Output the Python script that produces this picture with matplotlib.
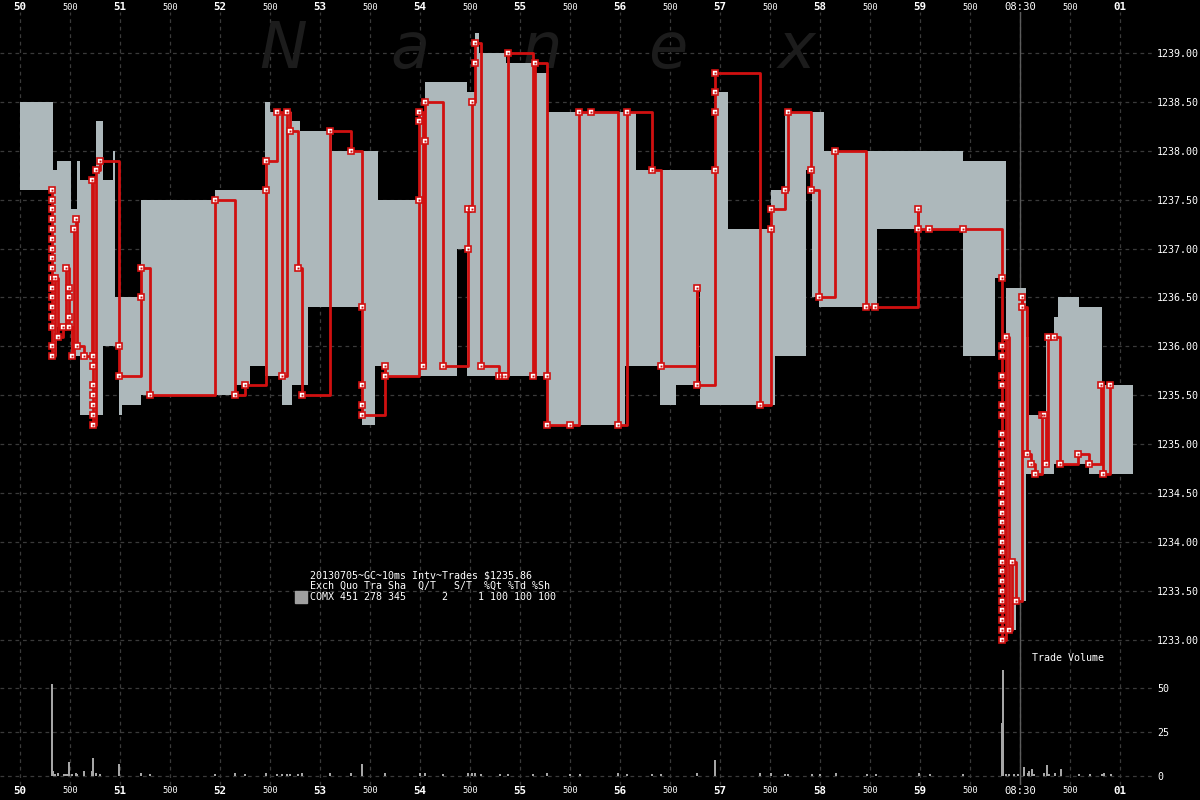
import matplotlib.pyplot as plt
from matplotlib.patches import Rectangle

# ---- quote (bid / ask) steps, seconds after 08:29 ----
quote_t = [50.00, 50.33, 50.37, 50.51, 50.57, 50.60, 50.76, 50.83, 50.93, 50.95,
           50.99, 51.02, 51.21, 51.95, 52.15, 52.30, 52.45, 52.50, 52.62, 52.72,
           52.80, 52.88, 53.12, 53.42, 53.55, 53.58, 53.65, 54.00, 54.05, 54.37,
           54.47, 54.55, 54.59, 54.86, 55.15, 55.27, 56.05, 56.16, 56.40, 56.56,
           56.77, 56.80, 56.95, 57.08, 57.51, 57.55, 57.65, 57.86, 57.92, 57.99,
           58.04, 58.57, 59.43, 59.75, 59.86, 59.96, 60.06, 60.09, 60.26, 60.34,
           60.38, 60.59, 60.69, 60.82, 61.13]
ask = [1238.5, 1237.8, 1237.9, 1237.4, 1237.9, 1237.7, 1238.3, 1237.7, 1238.0, 1236.5,
       1236.5, 1236.5, 1237.5, 1237.6, 1237.6, 1237.6, 1238.5, 1238.4, 1238.4, 1238.3,
       1238.2, 1238.2, 1238.0, 1238.0, 1238.0, 1237.5, 1237.5, 1238.4, 1238.7, 1238.7,
       1238.6, 1239.2, 1239.0, 1238.9, 1238.8, 1238.4, 1238.4, 1237.8, 1237.8, 1237.8,
       1237.8, 1237.8, 1238.6, 1237.2, 1237.6, 1237.6, 1238.4, 1238.4, 1238.4, 1238.4,
       1238.0, 1238.0, 1237.9, 1237.9, 1236.6, 1236.6, 1236.1, 1235.3, 1236.1, 1236.3,
       1236.5, 1236.4, 1236.4, 1235.6, 1235.6]
bid = [1237.6, 1235.9, 1236.2, 1235.9, 1235.9, 1235.3, 1235.3, 1236.0, 1236.0, 1236.0,
       1235.3, 1235.4, 1235.5, 1235.5, 1235.6, 1235.8, 1235.7, 1235.7, 1235.4, 1235.6,
       1235.6, 1236.4, 1236.4, 1235.2, 1235.8, 1235.8, 1235.7, 1235.7, 1235.7, 1237.0,
       1235.7, 1235.7, 1235.7, 1235.7, 1235.7, 1235.2, 1235.8, 1235.8, 1235.4, 1235.6,
       1236.6, 1235.4, 1235.4, 1235.4, 1235.4, 1235.9, 1235.9, 1237.8, 1236.5, 1236.4,
       1236.4, 1237.2, 1235.9, 1236.7, 1233.1, 1233.4, 1234.7, 1234.7, 1234.7, 1234.8,
       1234.8, 1234.8, 1234.7, 1234.7, 1234.7]

# ---- trades ----
trade_t = [50.32, 50.32, 50.32, 50.32, 50.32, 50.32, 50.32, 50.32, 50.32, 50.32,
           50.32, 50.32, 50.32, 50.32, 50.32, 50.32, 50.32, 50.35, 50.38, 50.43,
           50.46, 50.49, 50.49, 50.49, 50.49, 50.52, 50.54, 50.56, 50.57, 50.64,
           50.72, 50.73, 50.73, 50.73, 50.73, 50.73, 50.73, 50.73, 50.76, 50.80,
           50.99, 50.99, 51.21, 51.21, 51.30, 51.95, 52.15, 52.25, 52.46, 52.46,
           52.57, 52.62, 52.67, 52.70, 52.78, 52.82, 53.10, 53.31, 53.42, 53.42,
           53.42, 53.42, 53.65, 53.65, 53.99, 53.99, 53.99, 54.03, 54.05, 54.05,
           54.23, 54.48, 54.48, 54.52, 54.52, 54.55, 54.55, 54.61, 54.79, 54.82,
           54.85, 54.88, 55.13, 55.15, 55.27, 55.27, 55.50, 55.59, 55.71, 55.98,
           56.07, 56.32, 56.41, 56.77, 56.77, 56.95, 56.95, 56.95, 56.95, 57.40,
           57.51, 57.51, 57.65, 57.68, 57.91, 57.91, 57.99, 58.15, 58.46, 58.55,
           58.98, 58.98, 59.09, 59.43, 59.82, 59.82, 59.82, 59.82, 59.82, 59.82,
           59.82, 59.82, 59.82, 59.82, 59.82, 59.82, 59.82, 59.82, 59.82, 59.82,
           59.82, 59.82, 59.82, 59.82, 59.82, 59.82, 59.82, 59.82, 59.82, 59.82,
           59.82, 59.82, 59.82, 59.86, 59.89, 59.92, 59.96, 60.02, 60.02, 60.07,
           60.11, 60.15, 60.22, 60.24, 60.26, 60.28, 60.34, 60.40, 60.58, 60.69,
           60.81, 60.83, 60.90]
trade_p = [1237.6, 1237.5, 1237.4, 1237.3, 1237.2, 1237.1, 1237.0, 1236.9, 1236.8, 1236.7,
           1236.6, 1236.5, 1236.4, 1236.3, 1236.2, 1236.0, 1235.9, 1236.7, 1236.1, 1236.2,
           1236.8, 1236.6, 1236.5, 1236.3, 1236.2, 1235.9, 1237.2, 1237.3, 1236.0, 1235.9,
           1237.7, 1235.9, 1235.8, 1235.6, 1235.5, 1235.4, 1235.3, 1235.2, 1237.8, 1237.9,
           1236.0, 1235.7, 1236.5, 1236.8, 1235.5, 1237.5, 1235.5, 1235.6, 1237.6, 1237.9,
           1238.4, 1235.7, 1238.4, 1238.2, 1236.8, 1235.5, 1238.2, 1238.0, 1236.4, 1235.6,
           1235.4, 1235.3, 1235.8, 1235.7, 1237.5, 1238.3, 1238.4, 1235.8, 1238.1, 1238.5,
           1235.8, 1237.0, 1237.4, 1237.4, 1238.5, 1238.9, 1239.1, 1235.8, 1235.7, 1235.7,
           1235.7, 1239.0, 1235.7, 1238.9, 1235.7, 1235.2, 1235.2, 1238.4, 1238.4, 1235.2,
           1238.4, 1237.8, 1235.8, 1236.6, 1235.6, 1237.8, 1238.4, 1238.6, 1238.8, 1235.4,
           1237.2, 1237.4, 1237.6, 1238.4, 1237.8, 1237.6, 1236.5, 1238.0, 1236.4, 1236.4,
           1237.4, 1237.2, 1237.2, 1237.2, 1236.7, 1236.0, 1235.9, 1235.7, 1235.6, 1235.4,
           1235.3, 1235.1, 1235.0, 1234.9, 1234.8, 1234.7, 1234.6, 1234.5, 1234.4, 1234.3,
           1234.2, 1234.1, 1234.0, 1233.9, 1233.8, 1233.7, 1233.6, 1233.5, 1233.4, 1233.3,
           1233.2, 1233.1, 1233.0, 1236.1, 1233.1, 1233.8, 1233.4, 1236.5, 1236.4, 1234.9,
           1234.8, 1234.7, 1235.3, 1235.3, 1234.8, 1236.1, 1236.1, 1234.8, 1234.9, 1234.8,
           1235.6, 1234.7, 1235.6]

# ---- trade volume ----
vol_t = [50.32, 50.33, 50.35, 50.38, 50.44, 50.46, 50.47, 50.49, 50.52, 50.56,
         50.57, 50.64, 50.72, 50.73, 50.76, 50.80, 50.99, 51.21, 51.30, 51.95,
         52.15, 52.25, 52.46, 52.57, 52.62, 52.67, 52.70, 52.78, 52.82, 53.10,
         53.31, 53.42, 53.65, 54.00, 54.05, 54.23, 54.48, 54.52, 54.55, 54.61,
         54.80, 54.88, 55.13, 55.27, 55.50, 55.60, 55.98, 56.07, 56.32, 56.41,
         56.77, 56.95, 57.40, 57.51, 57.65, 57.68, 57.92, 58.00, 58.16, 58.47,
         58.56, 58.99, 59.10, 59.43, 59.82, 59.83, 59.86, 59.89, 59.94, 59.98,
         60.04, 60.08, 60.09, 60.12, 60.14, 60.24, 60.27, 60.29, 60.35, 60.41,
         60.59, 60.70, 60.82, 60.84, 60.91]
vol = [52, 3, 1, 2, 1, 1, 1, 8, 1, 2,
       1, 3, 3, 10, 2, 1, 7, 2, 1, 1,
       2, 1, 2, 1, 1, 1, 1, 1, 2, 2,
       2, 7, 2, 2, 2, 1, 2, 2, 2, 1,
       1, 1, 1, 2, 1, 1, 2, 1, 1, 1,
       2, 9, 2, 2, 1, 1, 1, 1, 2, 1,
       1, 2, 1, 1, 30, 60, 1, 1, 1, 1,
       5, 2, 3, 4, 1, 2, 6, 1, 2, 4,
       1, 1, 1, 2, 1]

tick_pos = [50, 50.5, 51, 51.5, 52, 52.5, 53, 53.5, 54, 54.5, 55, 55.5,
            56, 56.5, 57, 57.5, 58, 58.5, 59, 59.5, 60, 60.5, 61]
tick_lbl = ["50", "500", "51", "500", "52", "500", "53", "500", "54", "500",
            "55", "500", "56", "500", "57", "500", "58", "500", "59", "500",
            "08:30", "500", "01"]
price_ticks = [1233.0, 1233.5, 1234.0, 1234.5, 1235.0, 1235.5, 1236.0,
               1236.5, 1237.0, 1237.5, 1238.0, 1238.5, 1239.0]
vol_ticks = [0, 25, 50]

legend_lines = ["20130705~GC~10ms Intv~Trades $1235.86",
                "Exch Quo Tra Sha  Q/T   S/T  %Qt %Td %Sh",
                "COMX 451 278 345      2     1 100 100 100"]

MONO = "DejaVu Sans Mono"
RED = "#d01010"
GRID = dict(color="#3a3a3a", linestyle=(0, (3, 3)), linewidth=0.9)

fig = plt.figure(figsize=(12, 8), dpi=100, facecolor="black")
ax = fig.add_axes([0, 0.175, 0.9625, 0.81], facecolor="black")
axv = fig.add_axes([0, 0.01875, 0.9625, 0.15625], facecolor="black")


def style_time_labels(a):
    # "500" marks are small, whole seconds are bold
    for tk in a.xaxis.get_major_ticks():
        for lab in (tk.label1, tk.label2):
            lab.set_family(MONO)
            txt = lab.get_text()
            if txt == "500":
                lab.set_fontsize(6.2)
            elif txt == "08:30":
                lab.set_fontsize(7.6)
            else:
                lab.set_fontsize(7.8)
                lab.set_fontweight("bold")


for a in (ax, axv):
    for s in a.spines.values():
        s.set_visible(False)
    a.set_xlim(49.8, 61.35)
    a.set_axisbelow(True)
    a.grid(True, **GRID)
    a.axvline(60, color="#5c5c5c", lw=1.0, zorder=0.8)
    a.set_xticks(tick_pos)
    a.set_xticklabels(tick_lbl)
    a.yaxis.tick_right()
    a.tick_params(length=0, colors="white", labelsize=7.2)

# price panel
ax.set_ylim(1232.793, 1239.419)
ax.xaxis.tick_top()
ax.tick_params(axis="x", pad=0.3)
ax.tick_params(axis="y", pad=1.5)
ax.set_yticks(price_ticks)
ax.set_yticklabels([f"{v:.2f}" for v in price_ticks], family=MONO)
style_time_labels(ax)

# watermark
for ch, xp in zip("Nanex", [283, 410, 542, 668, 797]):
    ax.text(xp / 1200, 1 - 50 / 800, ch, transform=fig.transFigure, fontsize=46,
            style="italic", color="#1c1c1c", ha="center", va="center", zorder=0.6)

ax.fill_between(quote_t, bid, ask, step="post", color="#adb8bb", linewidth=0, zorder=1)
ax.plot(trade_t, trade_p, drawstyle="steps-post", color=RED, lw=2.0,
        marker="s", ms=4.8, mfc="white", mec=RED, mew=1.2, zorder=3)
ax.plot(trade_t, trade_p, ls="none", marker="s", ms=1.4, mfc=RED, mec=RED,
        mew=0, zorder=4)

# volume panel
axv.set_ylim(-5.1, 65.9)
axv.xaxis.tick_bottom()
axv.tick_params(axis="x", pad=1.0)
axv.tick_params(axis="y", pad=1.5)
axv.set_yticks(vol_ticks)
axv.set_yticklabels([str(v) for v in vol_ticks], family=MONO)
style_time_labels(axv)
axv.vlines(vol_t, 0, vol, color="#a6a6a6", lw=1.3, antialiased=False, zorder=2)

# legend block
for i, line in enumerate(legend_lines):
    fig.text(310 / 1200, 1 - (575 + 11 * i) / 800, line, family=MONO, fontsize=7.2,
             color="white", va="center", ha="left")
fig.patches.append(Rectangle((295 / 1200, 1 - 603 / 800), 12 / 1200, 12 / 800,
                             transform=fig.transFigure, color="#a0a0a0"))
fig.text(1032 / 1200, 1 - 658 / 800, "Trade Volume", family=MONO, fontsize=7.2,
         color="white", va="center", ha="left")

fig.savefig("out.png", dpi=100, facecolor="black")
